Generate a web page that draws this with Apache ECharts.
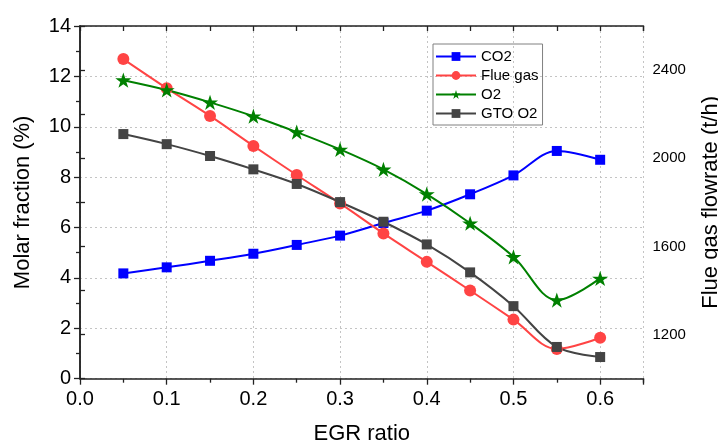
<!DOCTYPE html>
<html>
<head>
<meta charset="utf-8">
<script src="https://cdn.jsdelivr.net/npm/echarts@6/dist/echarts.min.js"></script>
<style>html,body{margin:0;padding:0;background:#fff}#c{width:718px;height:445px}</style>
</head>
<body>
<div id="c"></div>
<script>
const egr = [0.05, 0.10, 0.15, 0.20, 0.25, 0.30, 0.35, 0.40, 0.45, 0.50, 0.55, 0.60];
const co2 = [4.18, 4.42, 4.68, 4.96, 5.31, 5.68, 6.18, 6.67, 7.32, 8.07, 9.04, 8.69];
const flueGas = [2450, 2318, 2192, 2056, 1924, 1795, 1659, 1530, 1400, 1268, 1135, 1186];
const o2 = [11.85, 11.46, 10.97, 10.42, 9.79, 9.10, 8.31, 7.33, 6.17, 4.84, 3.12, 3.98];
const gtoO2 = [9.71, 9.31, 8.84, 8.31, 7.73, 7.01, 6.23, 5.33, 4.22, 2.88, 1.26, 0.86];
const seriesNames = ['CO2', 'Flue gas', 'O2', 'GTO O2'];
const rightLabels = [1200, 1600, 2000, 2400];

const FONT = "'Liberation Sans', Arial, sans-serif";
const STAR = 'path://M50,0 L61.23,34.55 L97.55,34.55 L68.16,55.9 L79.39,90.45 L50,69.1 L20.61,90.45 L31.84,55.9 L2.45,34.55 L38.77,34.55 Z';
const pair = arr => egr.map((x, i) => [x, arr[i]]);
const grid = {type: [2, 3], color: '#c4c4c4', width: 1};

const chart = echarts.init(document.getElementById('c'));
chart.setOption({
  animation: false,
  grid: {left: 80, right: 74.5, top: 26, bottom: 66.3, containLabel: false, outerBoundsMode: 'none'},
  legend: {
    orient: 'vertical', left: 433, top: 44,
    data: seriesNames,
    itemWidth: 40, itemHeight: 11, itemGap: 4,
    padding: [5, 4, 4, 2],
    borderColor: '#808080', borderWidth: 1,
    textStyle: {fontFamily: FONT, fontSize: 15, color: '#000'}
  },
  xAxis: [{
    type: 'value', min: 0, max: 0.65, interval: 0.1,
    name: 'EGR ratio', nameLocation: 'middle', nameGap: 44,
    nameTextStyle: {fontFamily: FONT, fontSize: 22, color: '#000'},
    axisLine: {lineStyle: {color: '#222', width: 1.5}},
    axisTick: {inside: false, length: 6, lineStyle: {color: '#222', width: 1.3}},
    minorTick: {show: true, splitNumber: 2, length: 4, lineStyle: {color: '#222', width: 1.3}},
    axisLabel: {fontFamily: FONT, fontSize: 20, color: '#000', margin: 11,
      formatter: v => v.toFixed(1), showMaxLabel: false},
    splitLine: {show: true, lineStyle: grid}
  }, {
    type: 'value', min: 0, max: 0.65, interval: 0.1, position: 'top',
    axisLine: {show: true, lineStyle: {color: '#222', width: 1.5}},
    axisTick: {inside: true, length: 5, lineStyle: {color: '#222', width: 1.3}},
    minorTick: {show: true, splitNumber: 2, length: 5, lineStyle: {color: '#222', width: 1.3}},
    axisLabel: {show: false}, splitLine: {show: false}
  }],
  yAxis: [{
    type: 'value', min: 0, max: 14, interval: 2,
    name: 'Molar fraction (%)', nameLocation: 'middle', nameGap: 46, nameRotate: 90,
    nameTextStyle: {fontFamily: FONT, fontSize: 22, color: '#000'},
    axisLine: {show: true, lineStyle: {color: '#222', width: 1.5}},
    axisTick: {show: true, length: 6, lineStyle: {color: '#222', width: 1.3}},
    minorTick: {show: true, splitNumber: 2, length: 4, lineStyle: {color: '#222', width: 1.3}},
    axisLabel: {fontFamily: FONT, fontSize: 20, color: '#000', margin: 9},
    splitLine: {show: true, lineStyle: grid}
  }, {
    type: 'value', min: 1000, max: 2600, interval: 200, position: 'right',
    name: 'Flue gas flowrate (t/h)', nameLocation: 'middle', nameGap: 56, nameRotate: 90,
    nameTextStyle: {fontFamily: FONT, fontSize: 22, color: '#000'},
    axisLine: {show: true, lineStyle: {color: '#222', width: 1.5}},
    axisTick: {show: true, length: 5, lineStyle: {color: '#222', width: 1.3}},
    axisLabel: {fontFamily: FONT, fontSize: 15, color: '#000', margin: 9,
      formatter: v => rightLabels.includes(v) ? String(v) : ''},
    splitLine: {show: false}
  }],
  series: [{
    name: 'CO2', type: 'line', data: pair(co2), smooth: 0.35,
    symbol: 'rect', symbolSize: 10,
    itemStyle: {color: '#0000ff'}, lineStyle: {color: '#0000ff', width: 2}
  }, {
    name: 'Flue gas', type: 'line', yAxisIndex: 1, data: pair(flueGas), smooth: 0.35,
    symbol: 'circle', symbolSize: 12,
    itemStyle: {color: '#ff4444'}, lineStyle: {color: '#ff4444', width: 2}
  }, {
    name: 'O2', type: 'line', data: pair(o2), smooth: 0.35,
    symbol: STAR, symbolSize: 16, symbolKeepAspect: true,
    itemStyle: {color: '#008000'}, lineStyle: {color: '#008000', width: 2}
  }, {
    name: 'GTO O2', type: 'line', data: pair(gtoO2), smooth: 0.35,
    symbol: 'rect', symbolSize: 10,
    itemStyle: {color: '#444444'}, lineStyle: {color: '#444444', width: 2}
  }]
});
</script>
</body>
</html>
